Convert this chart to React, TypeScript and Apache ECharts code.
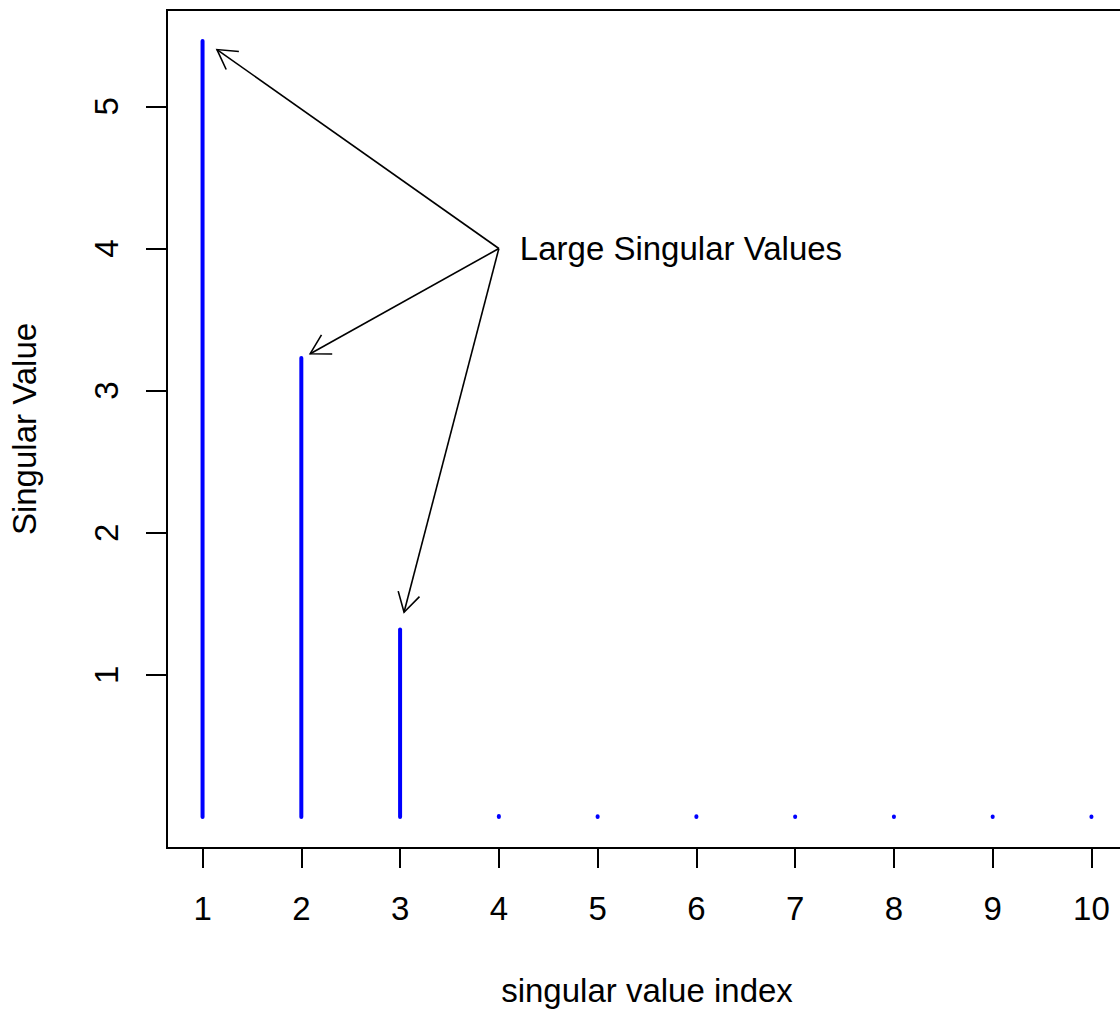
import React, { useEffect, useRef } from "react";
import * as echarts from "echarts";

const indices = [1, 2, 3, 4, 5, 6, 7, 8, 9, 10];
const singularValues = [5.46, 3.23, 1.32, 0.006, 0.005, 0.005, 0.004, 0.004, 0.003, 0.003];
const xTickValues = [1, 2, 3, 4, 5, 6, 7, 8, 9, 10];
const yTickValues = [1, 2, 3, 4, 5];
const arrowFrom = [4, 4];
const arrowTargetX = [1.146, 2.09, 3.04];
const arrowTargetY = [5.4, 3.26, 1.44];
const annotationText = "Large Singular Values";
const xTitle = "singular value index";
const yTitle = "Singular Value";

const FONT = "'Liberation Sans', Arial, Helvetica, sans-serif";
const FS = 33;

export default function App() {
  const ref = useRef<HTMLDivElement>(null);
  useEffect(() => {
    if (!ref.current) return;
    const chart = echarts.init(ref.current, undefined, { renderer: "svg" });
    const xMin = 1 - 0.04 * 9;
    const xMax = 10 + 0.04 * 9;
    const yMaxData = Math.max(...singularValues);
    const yMin = -0.04 * yMaxData;
    const yMax = yMaxData * 1.04;
    const option: any = {
      animation: false,
      backgroundColor: "#ffffff",
      textStyle: { fontFamily: FONT },
      grid: {
        left: 167,
        top: 10,
        width: 960,
        height: 838,
        show: true,
        borderColor: "#000",
        borderWidth: 2,
        backgroundColor: "transparent",
      },
      xAxis: {
        type: "value",
        min: xMin,
        max: xMax,
        splitLine: { show: false },
        axisLine: { show: false, onZero: false },
        axisTick: {
          show: true,
          inside: false,
          length: 20,
          customValues: xTickValues,
          lineStyle: { color: "#000", width: 2 },
        },
        axisLabel: {
          customValues: xTickValues,
          margin: 44,
          fontSize: FS,
          color: "#000",
          fontFamily: FONT,
        },
        name: xTitle,
        nameLocation: "middle",
        nameGap: 126,
        nameTextStyle: { fontSize: FS, color: "#000", fontFamily: FONT },
      },
      yAxis: {
        type: "value",
        min: yMin,
        max: yMax,
        splitLine: { show: false },
        axisLine: { show: false, onZero: false },
        axisTick: {
          show: true,
          inside: false,
          length: 21,
          customValues: yTickValues,
          lineStyle: { color: "#000", width: 2 },
        },
        axisLabel: {
          customValues: yTickValues,
          rotate: 90,
          margin: 44,
          fontSize: FS,
          color: "#000",
          fontFamily: FONT,
        },
        name: yTitle,
        nameLocation: "middle",
        nameGap: 126,
        nameTextStyle: { fontSize: FS, color: "#000", fontFamily: FONT },
      },
      series: [
        {
          type: "custom",
          name: "singular values",
          data: indices.map((x, i) => [x, singularValues[i]]),
          renderItem: (params: any, api: any) => {
            const x = api.value(0);
            const v = api.value(1);
            const a = api.coord([x, 0]);
            const b = api.coord([x, v]);
            return {
              type: "line",
              shape: { x1: a[0], y1: a[1], x2: b[0], y2: b[1] },
              style: { stroke: "#0000ff", lineWidth: 4, lineCap: "round" },
            };
          },
        },
        {
          type: "custom",
          name: "arrows",
          data: arrowTargetX.map((x, i) => [x, arrowTargetY[i]]),
          renderItem: (params: any, api: any) => {
            const p0 = api.coord(arrowFrom);
            const p1 = api.coord([api.value(0), api.value(1)]);
            const ang = Math.atan2(p0[1] - p1[1], p0[0] - p1[0]);
            const L = 22;
            const da = Math.PI / 6;
            const b1 = [p1[0] + L * Math.cos(ang + da), p1[1] + L * Math.sin(ang + da)];
            const b2 = [p1[0] + L * Math.cos(ang - da), p1[1] + L * Math.sin(ang - da)];
            const children: any[] = [
              {
                type: "line",
                shape: { x1: p0[0], y1: p0[1], x2: p1[0], y2: p1[1] },
                style: { stroke: "#000", lineWidth: 1.6 },
              },
              {
                type: "polyline",
                shape: { points: [b1, p1, b2] },
                style: { stroke: "#000", lineWidth: 1.6, fill: "none" },
              },
            ];
            if (params.dataIndex === 0) {
              children.push({
                type: "text",
                style: {
                  x: p0[0] + 21,
                  y: p0[1],
                  text: annotationText,
                  fill: "#000",
                  fontSize: FS,
                  fontFamily: FONT,
                  align: "left",
                  verticalAlign: "middle",
                },
              });
            }
            return { type: "group", children };
          },
        },
      ],
    };
    chart.setOption(option);
    return () => chart.dispose();
  }, []);
  return (
    <div
      ref={ref}
      style={{ position: "fixed", left: 0, top: 0, width: 1135, height: 1012, background: "#fff" }}
    />
  );
}
